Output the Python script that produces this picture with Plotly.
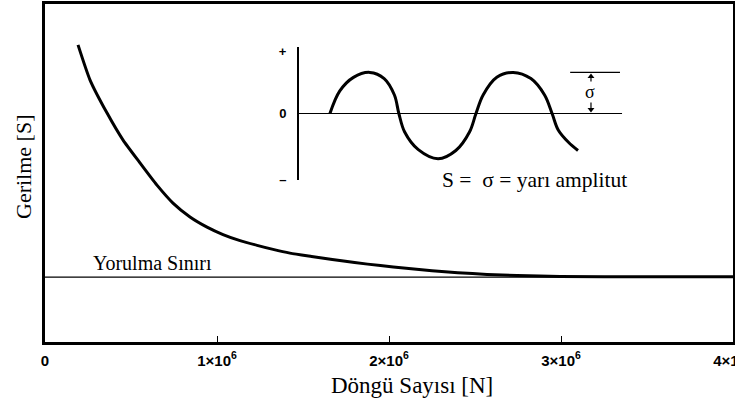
import plotly.graph_objects as go

# --- S-N curve (cycles, stress in arbitrary units 0..100)
curve_n = [0.192e6, 0.262e6, 0.360e6, 0.453e6, 0.552e6, 0.651e6, 0.744e6, 0.843e6,
           0.942e6, 1.035e6, 1.134e6, 1.233e6, 1.326e6, 1.424e6, 1.55e6, 1.67e6,
           1.80e6, 1.95e6, 2.10e6, 2.25e6, 2.40e6, 2.57e6, 2.744e6, 2.994e6, 3.5e6, 4.0e6]
curve_s = [87.9, 77.5, 67.8, 59.8, 53.0, 46.4, 41.1, 37.0, 34.0, 31.8, 30.0, 28.6,
           27.4, 26.3, 25.3, 24.4, 23.5, 22.6, 21.8, 21.1, 20.5, 20.0, 19.7, 19.4, 19.3, 19.3]
limit_n = [0, 4.0e6]
limit_s = [19.2, 19.2]
x_ticks = [0, 1e6, 2e6, 3e6, 4e6]
x_ticktext = ["0", "1×10<sup>6</sup>", "2×10<sup>6</sup>", "3×10<sup>6</sup>", "4×10<sup>6</sup>"]

# --- inset wave (time, stress)
wave_t = [0.91, 1.2, 1.6, 2.08, 2.5, 2.8, 2.93, 3.1, 3.5, 4.08, 4.6, 5.0, 5.19,
          5.4, 5.8, 6.28, 6.8, 7.2, 7.42, 7.6, 7.9, 8.18]
wave_s = [0.0, 0.55, 0.88, 1.0, 0.85, 0.45, 0.0, -0.45, -0.88, -1.1, -0.9, -0.45, 0.0,
          0.45, 0.88, 1.0, 0.85, 0.45, 0.0, -0.4, -0.7, -0.9]
zero_t = [0, 9.47]
zero_s = [0, 0]
amp_t = [7.95, 9.41]
amp_s = [1.0, 1.0]
arrow_t = [8.56, 8.56]
arrow_s = [0.9, 0.1]
inset_ticks = [1.5, 0, -1.6]
inset_ticktext = ["+", "0", "–"]

serif = "Liberation Serif"
sans = "Liberation Sans"

fig = go.Figure()
fig.add_trace(go.Scatter(x=limit_n, y=limit_s, mode="lines",
                         line=dict(color="black", width=1.2), showlegend=False))
fig.add_trace(go.Scatter(x=curve_n, y=curve_s, mode="lines", line_shape="spline",
                         line=dict(color="black", width=3, smoothing=0.6), showlegend=False))
# inset
fig.add_trace(go.Scatter(x=zero_t, y=zero_s, mode="lines", xaxis="x2", yaxis="y2",
                         line=dict(color="black", width=1.2), showlegend=False))
fig.add_trace(go.Scatter(x=amp_t, y=amp_s, mode="lines", xaxis="x2", yaxis="y2",
                         line=dict(color="black", width=1.2), showlegend=False))
fig.add_trace(go.Scatter(x=wave_t, y=wave_s, mode="lines", line_shape="spline",
                         xaxis="x2", yaxis="y2",
                         line=dict(color="black", width=3), showlegend=False))
fig.add_trace(go.Scatter(x=arrow_t, y=arrow_s, mode="lines+markers", xaxis="x2", yaxis="y2",
                         line=dict(color="black", width=1.2),
                         marker=dict(symbol=["triangle-up", "triangle-down"], size=6,
                                     color="black"),
                         showlegend=False))

fig.update_layout(
    width=735, height=419,
    margin=dict(l=45, r=2, t=4, b=77, autoexpand=False),
    paper_bgcolor="white", plot_bgcolor="white",
    xaxis=dict(range=[0, 4e6], tickvals=x_ticks, ticktext=x_ticktext,
               ticks="inside", ticklen=6, tickwidth=1, tickcolor="black",
               showline=True, linecolor="black", linewidth=2.5, mirror=True,
               showgrid=False, zeroline=False, ticklabeloverflow="allow",
               automargin=False, ticklabelstandoff=3,
               tickfont=dict(family=sans, size=15, color="black", weight="bold")),
    yaxis=dict(range=[0, 100], showticklabels=False, ticks="", automargin=False,
               showline=True, linecolor="black", linewidth=2.5, mirror=True,
               showgrid=False, zeroline=False),
    xaxis2=dict(domain=[0.369, 0.865], range=[0, 10], anchor="y2",
                visible=False, automargin=False),
    yaxis2=dict(domain=[0.479, 0.873], range=[-1.62, 1.62], anchor="x2",
                tickvals=inset_ticks, ticktext=inset_ticktext, ticks="",
                ticklabelstandoff=8, automargin=False,
                showline=True, linecolor="black", linewidth=1.8,
                showgrid=False, zeroline=False,
                tickfont=dict(family=sans, size=13, color="black", weight="bold")),
    annotations=[
        dict(text="Döngü Sayısı [N]", xref="paper", yref="paper",
             x=(412 - 45) / 688, y=(342 - 385) / 338, showarrow=False,
             xanchor="center", yanchor="middle",
             font=dict(family=serif, size=23, color="black")),
        dict(text="Gerilme [S]", xref="paper", yref="paper",
             x=(23 - 45) / 688, y=(342 - 167) / 338, textangle=-90, showarrow=False,
             xanchor="center", yanchor="middle",
             font=dict(family=serif, size=22, color="black")),
        dict(text="Yorulma Sınırı", xref="x", yref="y", x=0.27e6, y=19.5,
             xanchor="left", yanchor="bottom", showarrow=False,
             font=dict(family=serif, size=20, color="black")),
        dict(text="S =  σ = yarı amplitut", xref="x2", yref="y2", x=4.13, y=-1.62,
             xanchor="left", yanchor="middle", showarrow=False,
             font=dict(family=serif, size=21.5, color="black")),
        dict(text="σ", xref="x2", yref="y2", x=8.52, y=0.52, showarrow=False,
             bgcolor="white", borderpad=0,
             font=dict(family=serif, size=18, color="black")),
    ],
)

fig.write_html("out.html")
